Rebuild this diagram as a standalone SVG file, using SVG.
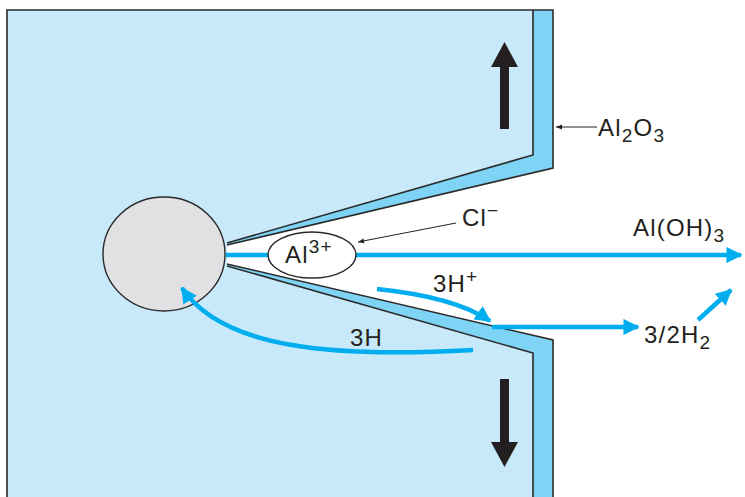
<svg xmlns="http://www.w3.org/2000/svg" width="745" height="497" viewBox="0 0 745 497">
  <defs>
    <style>
      .metal { fill: #c7e9fa; stroke: none; }
      .oxide { fill: #7fd3f5; stroke: none; }
      .edge { fill: none; stroke: #2b2b2b; stroke-width: 1.6; stroke-linejoin: miter; }
      .flow { fill: none; stroke: #00aeef; stroke-width: 4.5; }
      .lbl { font-family: "Liberation Sans", Arial, sans-serif; font-size: 24px; fill: #231f20; letter-spacing: 1.2px; }
      .sub { font-size: 19px; }
      .lead { fill: none; stroke: #231f20; stroke-width: 1; }
    </style>
    <marker id="blueHead" viewBox="0 0 10 10" refX="9" refY="5" markerWidth="3.6" markerHeight="3.6" markerUnits="strokeWidth" orient="auto">
      <path d="M0,0 L10,5 L0,10 Z" fill="#00aeef"/>
    </marker>
    <marker id="leadHead" viewBox="0 0 10 10" refX="10" refY="5" markerWidth="8" markerHeight="6" markerUnits="userSpaceOnUse" orient="auto">
      <path d="M0,1 L10,5 L0,9 Z" fill="#231f20"/>
    </marker>
  </defs>

  <!-- metal body with crack -->
  <g id="metal">
    <polygon class="metal" points="7,10 533,10 533,155 227,243 227,266 533,353 533,497 7,497"/>
  </g>

  <!-- oxide film on upper and lower faces -->
  <g id="oxide-upper">
    <polygon class="oxide" points="533,10 553,10 553,168 227,245 227,243 533,155"/>
    <polyline class="edge" points="7,497 7,10 553,10 553,168 227,245"/>
    <polyline class="edge" points="533,10 533,155 227,243"/>
  </g>
  <g id="oxide-lower">
    <polygon class="oxide" points="533,353 227,266 227,264 553,340 553,497 533,497"/>
    <polyline class="edge" points="227,264 553,340 553,497"/>
    <polyline class="edge" points="227,266 533,353 533,497"/>
  </g>

  <!-- pit -->
  <g id="pit">
    <ellipse cx="164" cy="254" rx="61" ry="57" fill="#e1e1e3" stroke="#2b2b2b" stroke-width="1.4"/>
  </g>

  <!-- flow arrows -->
  <g id="connectors">
    <line class="flow" x1="226" y1="255" x2="741" y2="255" marker-end="url(#blueHead)"/>
    <path class="flow" d="M377,289 Q455,297 490,321" marker-end="url(#blueHead)"/>
    <line class="flow" x1="492" y1="327" x2="638" y2="327" marker-end="url(#blueHead)"/>
    <line class="flow" x1="698" y1="320" x2="731" y2="290" marker-end="url(#blueHead)"/>
    <path class="flow" d="M473,350 C330,358 222,348 182,288" marker-end="url(#blueHead)"/>
    <line class="lead" x1="456" y1="223" x2="358" y2="242" marker-end="url(#leadHead)"/>
    <line class="lead" x1="597" y1="127" x2="556" y2="127" marker-end="url(#leadHead)"/>
  </g>

  <!-- aluminium ion -->
  <g id="al-ion">
    <ellipse cx="312" cy="255" rx="44" ry="23" fill="#ffffff" stroke="#2b2b2b" stroke-width="1.4"/>
    <text class="lbl" x="285" y="263">Al<tspan class="sub" dy="-10">3+</tspan></text>
  </g>

  <!-- growth direction arrows -->
  <g id="arrow-up">
    <rect x="500" y="64" width="9" height="65" fill="#231f20"/>
    <polygon points="491,67 518,67 504.5,42" fill="#231f20"/>
  </g>
  <g id="arrow-down">
    <rect x="500" y="379" width="9" height="66" fill="#231f20"/>
    <polygon points="491,442 518,442 504.5,467" fill="#231f20"/>
  </g>

  <!-- labels -->
  <g id="label-al2o3">
    <text class="lbl" x="598" y="136">Al<tspan class="sub" dy="6">2</tspan><tspan dy="-6">O</tspan><tspan class="sub" dy="6">3</tspan></text>
  </g>
  <g id="label-aloh3">
    <text class="lbl" x="633" y="236">Al(OH)<tspan class="sub" dy="6">3</tspan></text>
  </g>
  <g id="label-cl">
    <text class="lbl" x="462" y="226">Cl<tspan class="sub" dy="-9">−</tspan></text>
  </g>
  <g id="label-hplus">
    <text class="lbl" x="433" y="292">3H<tspan class="sub" dy="-9">+</tspan></text>
  </g>
  <g id="label-h2">
    <text class="lbl" x="644" y="343">3/2H<tspan class="sub" dy="6">2</tspan></text>
  </g>
  <g id="label-3h">
    <text class="lbl" x="350" y="346">3H</text>
  </g>
</svg>
